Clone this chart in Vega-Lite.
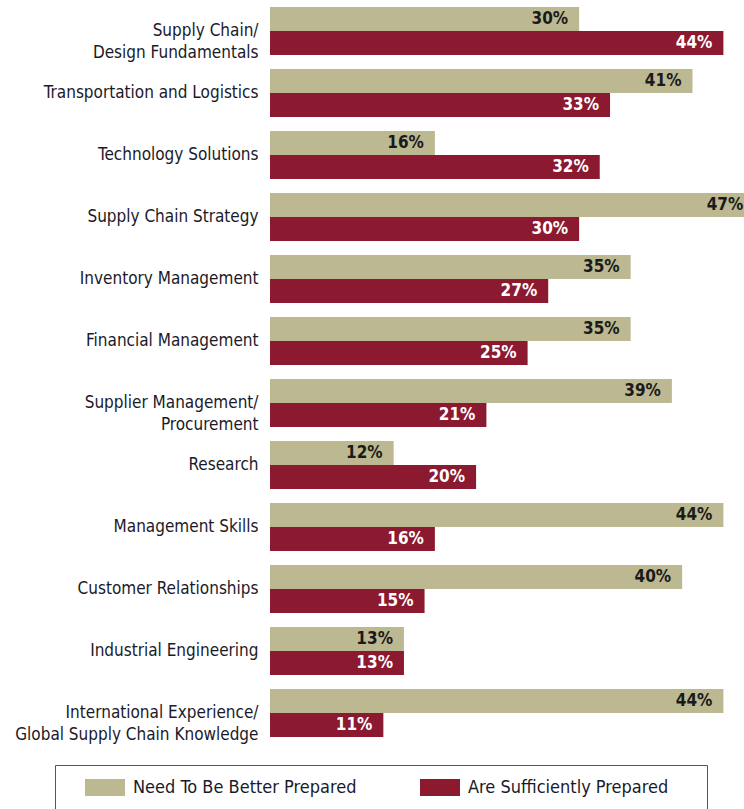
{
  "$schema": "https://vega.github.io/schema/vega-lite/v6.json",
  "width": 474,
  "height": 730,
  "autosize": {"type": "none"},
  "padding": {"left": 270, "top": 7, "right": 0, "bottom": 72},
  "config": {
    "view": {"stroke": null},
    "font": "DejaVu Sans Condensed, sans-serif"
  },
  "data": {
    "values": [
      {"category": "Supply Chain/ Design Fundamentals", "series": "Need To Be Better Prepared", "value": 30},
      {"category": "Supply Chain/ Design Fundamentals", "series": "Are Sufficiently Prepared", "value": 44},
      {"category": "Transportation and Logistics", "series": "Need To Be Better Prepared", "value": 41},
      {"category": "Transportation and Logistics", "series": "Are Sufficiently Prepared", "value": 33},
      {"category": "Technology Solutions", "series": "Need To Be Better Prepared", "value": 16},
      {"category": "Technology Solutions", "series": "Are Sufficiently Prepared", "value": 32},
      {"category": "Supply Chain Strategy", "series": "Need To Be Better Prepared", "value": 47},
      {"category": "Supply Chain Strategy", "series": "Are Sufficiently Prepared", "value": 30},
      {"category": "Inventory Management", "series": "Need To Be Better Prepared", "value": 35},
      {"category": "Inventory Management", "series": "Are Sufficiently Prepared", "value": 27},
      {"category": "Financial Management", "series": "Need To Be Better Prepared", "value": 35},
      {"category": "Financial Management", "series": "Are Sufficiently Prepared", "value": 25},
      {"category": "Supplier Management/ Procurement", "series": "Need To Be Better Prepared", "value": 39},
      {"category": "Supplier Management/ Procurement", "series": "Are Sufficiently Prepared", "value": 21},
      {"category": "Research", "series": "Need To Be Better Prepared", "value": 12},
      {"category": "Research", "series": "Are Sufficiently Prepared", "value": 20},
      {"category": "Management Skills", "series": "Need To Be Better Prepared", "value": 44},
      {"category": "Management Skills", "series": "Are Sufficiently Prepared", "value": 16},
      {"category": "Customer Relationships", "series": "Need To Be Better Prepared", "value": 40},
      {"category": "Customer Relationships", "series": "Are Sufficiently Prepared", "value": 15},
      {"category": "Industrial Engineering", "series": "Need To Be Better Prepared", "value": 13},
      {"category": "Industrial Engineering", "series": "Are Sufficiently Prepared", "value": 13},
      {"category": "International Experience/ Global Supply Chain Knowledge", "series": "Need To Be Better Prepared", "value": 44},
      {"category": "International Experience/ Global Supply Chain Knowledge", "series": "Are Sufficiently Prepared", "value": 11}
    ]
  },
  "encoding": {
    "y": {
      "field": "category",
      "type": "nominal",
      "sort": null,
      "scale": {"paddingInner": 0.2258, "paddingOuter": 0},
      "axis": {
        "title": null,
        "ticks": false,
        "domain": false,
        "labelPadding": 12,
        "labelFontSize": 17,
        "labelColor": "#1a1a2a",
        "labelLineHeight": 22,
        "labelLimit": 300,
        "labelExpr": "split(replace(datum.label, '/ ', '/|'), '|')"
      }
    },
    "yOffset": {
      "field": "series",
      "type": "nominal",
      "sort": ["Need To Be Better Prepared", "Are Sufficiently Prepared"],
      "scale": {"paddingInner": 0, "paddingOuter": 0}
    },
    "x": {
      "field": "value",
      "type": "quantitative",
      "scale": {"domain": [0, 46], "nice": false, "zero": true},
      "axis": null
    }
  },
  "layer": [
    {
      "mark": {"type": "bar", "clip": true},
      "encoding": {
        "color": {
          "field": "series",
          "type": "nominal",
          "scale": {
            "domain": ["Need To Be Better Prepared", "Are Sufficiently Prepared"],
            "range": ["#bcb891", "#8b192f"]
          },
          "legend": {
            "orient": "none",
            "legendX": -215,
            "legendY": 758,
            "direction": "horizontal",
            "title": "\u00a0",
            "titleOrient": "bottom",
            "titleFontSize": 12,
            "titlePadding": 6,
            "strokeColor": "#555555",
            "padding": 2.5,
            "symbolType": "M-1,-0.425H1V0.425H-1Z",
            "symbolSize": 1600,
            "symbolOffset": 27.5,
            "symbolStrokeWidth": 0,
            "symbolOpacity": 1,
            "labelOffset": 8,
            "labelFontSize": 18,
            "labelColor": "#1a1a2a",
            "labelLimit": 400,
            "columnPadding": 36,
            "labelExpr": "datum.label == 'Are Sufficiently Prepared' ? datum.label + '\u00a0\u00a0\u00a0\u00a0\u00a0\u00a0\u00a0\u200b' : datum.label"
          }
        }
      }
    },
    {
      "mark": {
        "type": "text",
        "align": "right",
        "baseline": "middle",
        "dx": -11,
        "fontSize": 17,
        "fontWeight": "bold",
        "text": {"expr": "datum.value + '%'"}
      },
      "encoding": {
        "color": {
          "condition": {"test": "datum.series == 'Are Sufficiently Prepared'", "value": "#ffffff"},
          "value": "#1a1a1a"
        }
      }
    }
  ]
}
